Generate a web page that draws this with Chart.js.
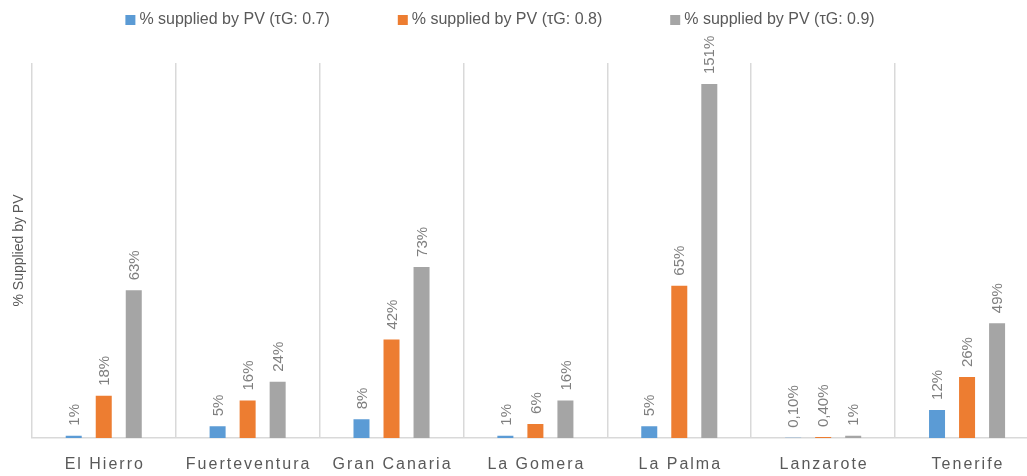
<!DOCTYPE html>
<html>
<head>
<meta charset="utf-8">
<script src="https://cdn.jsdelivr.net/npm/chart.js@4"></script>
<style>
  html, body { margin: 0; padding: 0; background: #fff; overflow: hidden; }
  #wrap { width: 1045px; height: 476px; }
</style>
</head>
<body>
<div id="wrap"><canvas id="myChart" width="1045" height="476"></canvas></div>
<script>
const islands = ["El Hierro", "Fuerteventura", "Gran Canaria", "La Gomera", "La Palma", "Lanzarote", "Tenerife"];
const pv07 = [1, 5, 8, 1, 5, 0.1, 12];
const pv08 = [18, 16, 42, 6, 65, 0.4, 26];
const pv09 = [63, 24, 73, 16, 151, 1, 49];
const seriesNames = [
  "% supplied by PV (\u03c4G: 0.7)",
  "% supplied by PV (\u03c4G: 0.8)",
  "% supplied by PV (\u03c4G: 0.9)",
];

const textGrey = "#595959";

function fmt(v) {
  if (v < 1) return v.toFixed(2).replace(".", ",") + "%";
  return v + "%";
}

// rotated value labels above each bar
const barLabels = {
  id: "barLabels",
  afterDatasetsDraw(chart) {
    const c = chart.ctx;
    c.save();
    c.font = "15px 'Liberation Sans', Arial, sans-serif";
    c.fillStyle = "#7f7f7f";
    c.textAlign = "left";
    c.textBaseline = "middle";
    chart.data.datasets.forEach((ds, di) => {
      chart.getDatasetMeta(di).data.forEach((bar, i) => {
        c.save();
        c.translate(bar.x + 1, bar.y - 10);
        c.rotate(-Math.PI / 2);
        c.fillText(fmt(ds.data[i]), 0, 0);
        c.restore();
      });
    });
    c.restore();
  },
};

// spaced category names under the axis
const xNames = {
  id: "xNames",
  afterDraw(chart) {
    const c = chart.ctx;
    const x = chart.scales.x;
    c.save();
    c.font = "16px 'Liberation Sans', Arial, sans-serif";
    c.letterSpacing = "2px";
    c.fillStyle = textGrey;
    c.textAlign = "center";
    c.textBaseline = "middle";
    islands.forEach((name, i) => {
      c.fillText(name, x.getPixelForValue(i) + 1, 465);
    });
    c.restore();
  },
};

// legend row on top
const topLegend = {
  id: "topLegend",
  afterDraw(chart) {
    const c = chart.ctx;
    c.save();
    c.font = "16px 'Liberation Sans', Arial, sans-serif";
    c.textBaseline = "middle";
    c.textAlign = "left";
    const gap = 68;
    const widths = chart.data.datasets.map(ds => 14 + c.measureText(ds.label).width);
    const total = widths.reduce((a, b) => a + b, 0) + gap * (widths.length - 1);
    let x = 500 - total / 2;
    chart.data.datasets.forEach((ds, i) => {
      c.fillStyle = ds.backgroundColor;
      c.fillRect(x, 15, 10, 10);
      c.fillStyle = textGrey;
      c.fillText(ds.label, x + 14, 20);
      x += widths[i] + gap;
    });
    c.restore();
  },
};

new Chart(document.getElementById("myChart"), {
  type: "bar",
  data: {
    labels: islands,
    datasets: [
      { label: seriesNames[0], data: pv07, backgroundColor: "#5B9BD5" },
      { label: seriesNames[1], data: pv08, backgroundColor: "#ED7D31" },
      { label: seriesNames[2], data: pv09, backgroundColor: "#A5A5A5" },
    ],
  },
  options: {
    responsive: false,
    animation: false,
    datasets: {
      bar: { categoryPercentage: 0.626, barPercentage: 0.533 },
    },
    layout: { padding: { top: 63, left: 7, right: 6, bottom: 38 } },
    plugins: {
      legend: { display: false },
      tooltip: { enabled: false },
    },
    scales: {
      x: {
        ticks: { display: false },
        grid: { color: "#d9d9d9", lineWidth: 1.5, drawTicks: false, offset: true },
        border: { color: "#d9d9d9", width: 1.5 },
      },
      y: {
        min: 0,
        max: 160,
        ticks: { display: false },
        grid: { display: false, drawTicks: false },
        border: { display: false },
        title: {
          display: true,
          text: "% Supplied by PV",
          color: textGrey,
          font: { size: 14, family: "'Liberation Sans', Arial, sans-serif" },
          padding: { top: 4, bottom: 4 },
        },
      },
    },
  },
  plugins: [barLabels, xNames, topLegend],
});
</script>
</body>
</html>
